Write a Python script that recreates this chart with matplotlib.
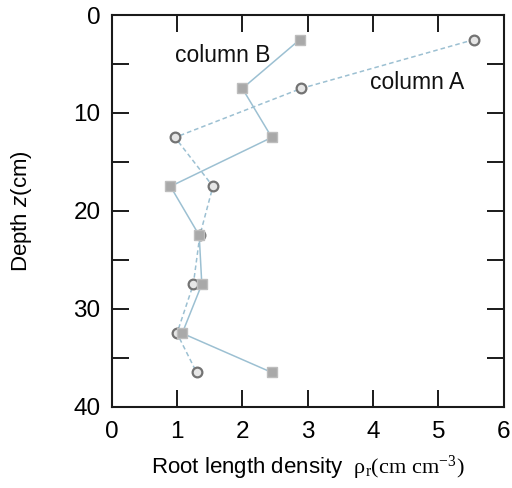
import matplotlib
matplotlib.use("Agg")
import matplotlib.pyplot as plt

plt.rcParams['font.family'] = ['Liberation Sans', 'DejaVu Sans']
plt.rcParams['mathtext.fontset'] = 'custom'
plt.rcParams['mathtext.rm'] = 'Liberation Serif'
plt.rcParams['mathtext.it'] = 'Liberation Sans:italic'

# Sampling depths (cm) and root length densities (cm cm^-3)
depth = [2.5, 7.5, 12.5, 17.5, 22.5, 27.5, 32.5, 36.5]
rho_column_a = [5.55, 2.9, 0.97, 1.55, 1.35, 1.25, 1.0, 1.3]
rho_column_b = [2.88, 2.0, 2.45, 0.9, 1.34, 1.38, 1.08, 2.45]

x_ticks = [0, 1, 2, 3, 4, 5, 6]
y_ticks = [0, 10, 20, 30, 40]
y_minor = [5, 15, 25, 35]

fig = plt.figure(figsize=(5.12, 4.88), dpi=100)
ax = fig.add_axes([0.218, 0.1666, 0.766, 0.8026])

line_color = '#9cc0d2'
ax.plot(rho_column_a, depth, linestyle=(0, (3, 2)), color=line_color, lw=1.1,
        marker='o', markersize=7, markerfacecolor='#e6e6e6',
        markeredgecolor='#737373', markeredgewidth=1.6, zorder=3)
ax.plot(rho_column_b, depth, linestyle='-', color=line_color, lw=1.1,
        marker='s', markersize=7, markerfacecolor='#a9a9a9',
        markeredgecolor='#bdbdbd', markeredgewidth=1.0, zorder=3)

ax.text(0.97, 4.1, 'column B', fontsize=16.5, va='center', ha='left', color='#111111')
ax.text(3.95, 6.9, 'column A', fontsize=16.5, va='center', ha='left', color='#111111')

ax.set_xlim(0, 6)
ax.set_ylim(40, 0)
ax.set_xticks(x_ticks)
ax.set_yticks(y_ticks)
ax.set_yticks(y_minor, minor=True)

ax.tick_params(axis='both', which='both', direction='in', length=12.5, width=1.4,
               top=True, right=True, labelsize=17.5, color='#1a1a1a')
ax.tick_params(axis='x', which='both', pad=10)
ax.tick_params(axis='y', which='both', pad=8)

for s in ax.spines.values():
    s.set_linewidth(1.5)
    s.set_color('#1a1a1a')

ax.set_ylabel(r'Depth $\mathit{z}$(cm)', fontsize=16, labelpad=28)
ax.set_xlabel(r'Root length density  $\mathrm{\rho_{r}(cm\ cm^{-3})}$', fontsize=16, labelpad=8)

fig.savefig('out.png', dpi=100)
